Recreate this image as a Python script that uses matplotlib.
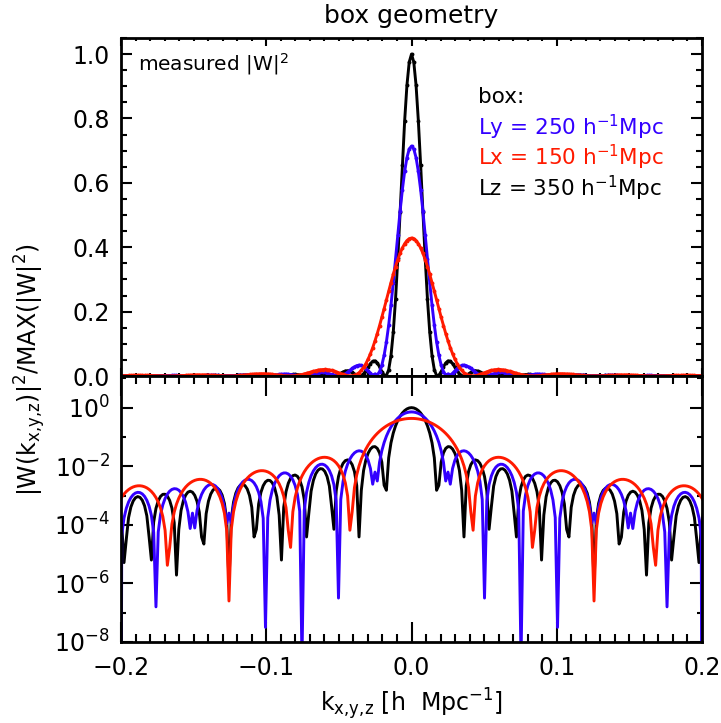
import numpy as np
import matplotlib
matplotlib.use('Agg')
import matplotlib.pyplot as plt
from matplotlib.ticker import MultipleLocator, FixedLocator, FuncFormatter, NullFormatter

# box side lengths [h^-1 Mpc], one curve each
box_names = ['Lz', 'Ly', 'Lx']
box_len = [350.0, 250.0, 150.0]
box_colors = ['black', '#3300ff', '#ff1a00']
legend_order = [1, 2, 0]

# FFT box that sets the k spacing of the measurement [h^-1 Mpc]
fft_box = 4000.0
kmax = 0.2

# measured log10 |W|^2 at grid points that fall on the analytic zeros
# (zero order n, k = 2 pi n / L); these sit at the noise floor
zero_order = {350.0: [7],
              250.0: [1, 2, 3, 4, 5, 6, 7],
              150.0: [3]}
zero_logw = {350.0: [-6.0],
             250.0: [-2.2, -6.5, -8.6, -7.5, -3.6, -3.6, -6.8],
             150.0: [-6.6]}

dk = 2*np.pi/fft_box
nk = int(np.ceil(kmax/dk)) + 1
k = np.arange(-nk, nk+1)*dk


def window(k, L):
    # |W|^2 of a top-hat of length L along one axis, weighted by L
    return np.sinc(k*L/(2*np.pi))**2 * L


w = [window(k, L) for L in box_len]
wmax = max(x.max() for x in w)
w = [x/wmax for x in w]
for L, y in zip(box_len, w):
    for n, lw in zip(zero_order[L], zero_logw[L]):
        for sgn in (-1, 1):
            i = np.argmin(np.abs(k - sgn*2*np.pi*n/L))
            y[i] = 10.0**lw


def fmt_lin(v, p):
    s = '%.1f' % v
    if s == '-0.0':
        s = '0.0'
    return s.replace('-', '\u2212')


fig = plt.figure(figsize=(7.21, 7.23), dpi=100)
W, H = 721., 723.
ax1 = fig.add_axes([121/W, 1-376/H, 581/W, 338/H])
ax2 = fig.add_axes([121/W, 1-642/H, 581/W, 266/H])

for c, y in zip(box_colors, w):
    ax1.plot(k, y, color=c, lw=2.1, marker='o', ms=1.8, mec=c, mfc=c)
    ax2.plot(k, y, color=c, lw=2.1)

ax1.set_xlim(-kmax, kmax)
ax1.set_ylim(0, 1.05)
ax2.set_xlim(-kmax, kmax)
ax2.set_yscale('log')
ax2.set_ylim(1e-8, 10**1.08)

for ax in (ax1, ax2):
    for s in ax.spines.values():
        s.set_linewidth(2.0)
    ax.xaxis.set_major_locator(MultipleLocator(0.1))
    ax.xaxis.set_minor_locator(MultipleLocator(0.01))
    ax.tick_params(which='both', direction='in', top=True, right=True, width=1.5,
                   labelsize=17)

ax1.yaxis.set_major_locator(MultipleLocator(0.2))
ax1.yaxis.set_minor_locator(MultipleLocator(0.05))
ax1.yaxis.set_major_formatter(FuncFormatter(fmt_lin))
ax1.tick_params(axis='x', which='major', length=5.8, labelbottom=False)
ax1.tick_params(axis='x', which='minor', length=2.5)
ax1.tick_params(axis='y', which='major', length=7.9, pad=8)
ax1.tick_params(axis='y', which='minor', length=4.3)

ax2.yaxis.set_major_locator(FixedLocator([1e-8, 1e-6, 1e-4, 1e-2, 1e0]))
ax2.yaxis.set_minor_locator(FixedLocator([1e-7, 1e-5, 1e-3, 1e-1, 1e1]))
ax2.yaxis.set_major_formatter(FuncFormatter(lambda v, p: r'$10^{%d}$' % round(np.log10(v))))
ax2.yaxis.set_minor_formatter(NullFormatter())
ax2.xaxis.set_major_formatter(FuncFormatter(fmt_lin))
ax2.tick_params(axis='x', which='major', length=14.4, pad=10)
ax2.tick_params(axis='x', which='minor', length=5.8)
ax2.tick_params(axis='y', which='major', length=8.6, pad=8)
ax2.tick_params(axis='y', which='minor', length=3.6)

fig.text(411.5/W, 1-23/H, 'box geometry', ha='center', va='baseline', fontsize=18)
fig.text(138/W, 1-70.7/H, r'measured |W|$^2$', ha='left', va='baseline', fontsize=14.5)
fig.text(478/W, 1-103/H, 'box:', ha='left', va='baseline', fontsize=15.5)
for row, i in enumerate(legend_order):
    fig.text(478/W, 1-(135+30.5*row)/H,
             r'%s = %d h$^{-1}$Mpc' % (box_names[i], box_len[i]),
             color=box_colors[i], ha='left', va='baseline', fontsize=15.5)

sub = r'_{\mathrm{x{,}y{,}z}}'
fig.text(30/W, 1-370/H, r'|W(k$%s$)|$^2$/MAX(|W|$^2$)' % sub, rotation=90,
         ha='center', va='center', fontsize=17)
fig.text(411.5/W, 1-704/H, r'k$%s$ [h  Mpc$^{-1}$]' % sub, ha='center',
         va='center', fontsize=17)

fig.savefig('out.png', dpi=100)
